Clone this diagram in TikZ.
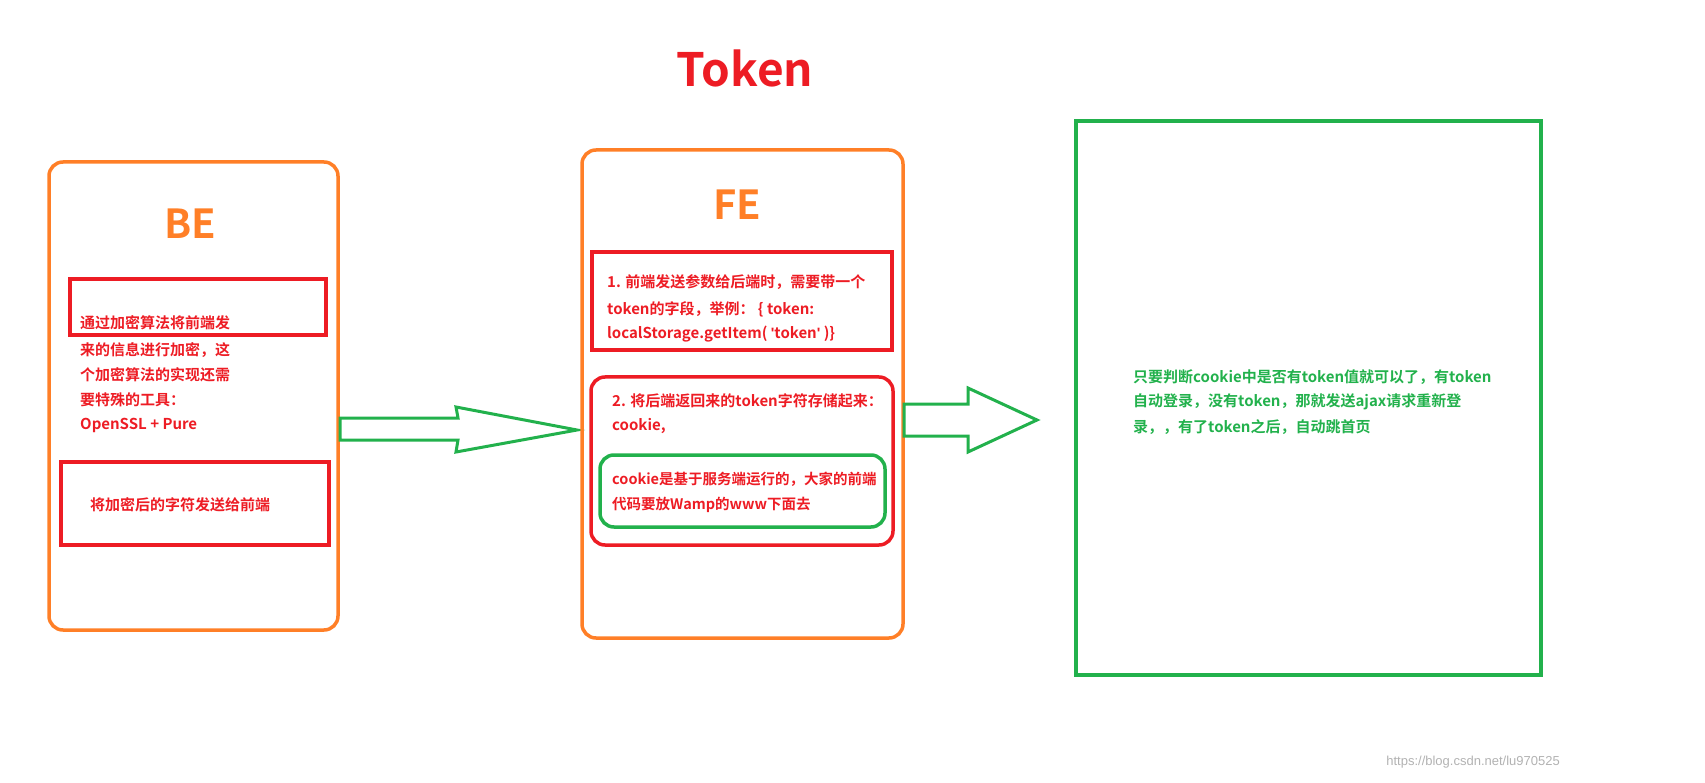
\documentclass[tikz,border=0pt]{standalone}
\usepackage{fontspec}
\setmainfont{Noto Sans CJK SC Bold}
\newfontfamily\qfont{Liberation Sans Bold}
\definecolor{rd}{RGB}{237,28,36}
\definecolor{og}{RGB}{255,127,39}
\definecolor{gn}{RGB}{34,177,76}
\begin{document}
\begin{tikzpicture}[x=1pt,y=-1pt,
  t/.style={anchor=west,inner sep=0pt,font=\fontsize{15}{15}\selectfont},
  big/.style={font=\fontsize{40}{40}\selectfont},
  ob/.style={draw=og,line width=3.5pt,rounded corners=14pt},
  rb/.style={draw=rd,line width=3.5pt}]
\useasboundingbox (0,0) rectangle (1705,783);
\node[big,text=rd,font=\fontsize{46}{46}\selectfont] (title) at (745,68) {Token};
\draw[ob] (49,162) rectangle (338,630);
\node[big,text=og] (be) at (190,224) {BE};
\draw[rb] (70,279) rectangle (326,335);
\draw[rb] (61,462) rectangle (329,545);
\foreach \s/\y [count=\i] in {通过加密算法将前端发/323,来的信息进行加密，这/350,个加密算法的实现还需/375,要特殊的工具：/400,OpenSSL + Pure/425}
  \node[t,text=rd] (b\i) at (80,\y) {\s};
\node[t,text=rd] (b6) at (90,505) {将加密后的字符发送给前端};
\draw[gn,line width=3pt,line join=miter] (340,418) -- (458,418) -- (456,407) -- (577,430) -- (456,452) -- (458,440) -- (340,440) -- cycle;
\draw[ob] (582,150) rectangle (903,638);
\node[big,text=og] (fe) at (737,205) {FE};
\draw[rb] (592,252) rectangle (892,350);
\node[t,text=rd] (f1) at (607,282) {1. 前端发送参数给后端时，需要带一个};
\node[t,text=rd] (f2) at (607,309) {token的字段，举例： \{ token:};
\node[t,text=rd] (f3) at (607,334) {localStorage.getItem( {\qfont\symbol{39}}token{\qfont\symbol{39}} )\}};
\draw[rb,rounded corners=14pt] (591,377) rectangle (893,545);
\node[t,text=rd] (f4) at (612,401) {2. 将后端返回来的token字符存储起来：};
\node[t,text=rd] (f5) at (612,426) {cookie,};
\draw[draw=gn,line width=3.5pt,rounded corners=14pt] (600,455) rectangle (885,527);
\node[t,text=rd,font=\fontsize{14.5}{14.5}\selectfont] (f6) at (612,479) {cookie是基于服务端运行的，大家的前端};
\node[t,text=rd,font=\fontsize{14.5}{14.5}\selectfont] (f7) at (612,505) {代码要放Wamp的www下面去};
\draw[gn,line width=3pt,line join=miter] (904,404) -- (968,404) -- (968,388) -- (1037,420) -- (968,452) -- (968,436) -- (904,436) -- cycle;
\draw[gn,line width=3.5pt] (1076,121) rectangle (1541,675);
\node[t,text=gn] (r1) at (1133,377) {只要判断cookie中是否有token值就可以了，有token};
\node[t,text=gn] (r2) at (1133,402) {自动登录，没有token，那就发送ajax请求重新登};
\node[t,text=gn] (r3) at (1133,427) {录，，有了token之后，自动跳首页};
\node[anchor=east,inner sep=0pt,text=gray!60,font=\fontsize{13}{13}\selectfont\setmainfont{Liberation Sans}] (wm) at (1560,762) {https://blog.csdn.net/lu970525};
\end{tikzpicture}
\end{document}
